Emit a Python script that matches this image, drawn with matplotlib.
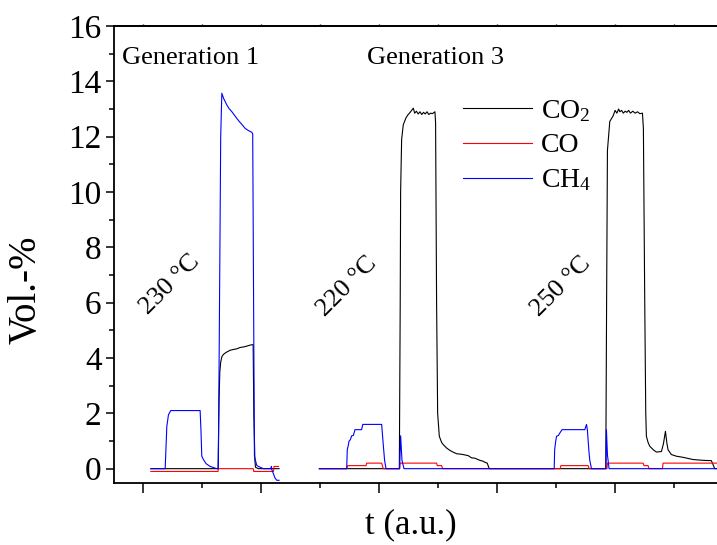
import matplotlib
matplotlib.use("Agg")
import matplotlib.pyplot as plt
from matplotlib.ticker import MultipleLocator, NullFormatter

plt.rcParams["font.family"] = ["Liberation Serif", "DejaVu Serif"]
plt.rcParams["mathtext.fontset"] = "custom"
plt.rcParams["mathtext.rm"] = "Liberation Serif"
plt.rcParams["mathtext.it"] = "Liberation Serif"

# ---- data (x in arbitrary time units, y in Vol.-%) ----
# Generation 1 run
gen1_co2_x = [0.125, 1.265, 1.282, 1.295, 1.31, 1.33, 1.356, 1.40, 1.469, 1.53, 1.58, 1.639, 1.70, 1.752, 1.80, 1.837, 1.86, 1.872, 1.89, 1.90, 1.95, 2.30]
gen1_co2_y = [0.0, 0.0, 2.5, 3.5, 3.85, 4.05, 4.13, 4.2, 4.28, 4.31, 4.33, 4.38, 4.4, 4.43, 4.46, 4.48, 4.48, 2.0, 0.3, 0.05, 0.0, 0.0]

gen1_co_x = [0.125, 1.265, 1.27, 1.862, 1.87, 2.205, 2.215, 2.29]
gen1_co_y = [-0.1, -0.1, 0.0, 0.0, -0.1, -0.1, 0.08, 0.08]

gen1_ch4_x = [0.125, 0.368, 0.396, 0.424, 0.464, 0.961, 0.975, 0.989, 1.017, 1.063, 1.131, 1.244, 1.27,
              1.31, 1.329, 1.36, 1.413, 1.45, 1.50, 1.583, 1.62, 1.67, 1.724, 1.78, 1.837, 1.853,
              1.868, 1.882, 1.921, 1.950, 2.034, 2.159, 2.17, 2.176, 2.232, 2.261, 2.30]
gen1_ch4_y = [0.0, 0.0, 1.53, 1.95, 2.1, 2.1, 1.4, 0.45, 0.33, 0.18, 0.08, 0.0, 0.0,
              12.0, 13.57, 13.38, 13.15, 13.02, 12.9, 12.66, 12.56, 12.44, 12.30, 12.22, 12.16, 12.1,
              6.0, 0.45, 0.12, 0.08, 0.0, 0.0, 0.08, -0.03, -0.34, -0.42, -0.42]

# Generation 3 run (220 °C and 250 °C)
gen3_co2_x = [2.984, 4.340, 4.355, 4.362, 4.379, 4.407, 4.453, 4.49, 4.52, 4.577, 4.60, 4.63, 4.66, 4.69,
              4.72, 4.75, 4.78, 4.81, 4.84, 4.87, 4.90, 4.944, 4.955, 4.972, 4.99, 5.018, 5.057, 5.085,
              5.14, 5.198, 5.25, 5.311, 5.40, 5.509, 5.566, 5.62, 5.707, 5.76, 5.792, 5.831, 5.865,
              7.842, 7.856, 7.87, 7.91, 7.966, 8.0, 8.03, 8.06, 8.08, 8.11, 8.14, 8.17, 8.20, 8.23,
              8.26, 8.30, 8.34, 8.38, 8.42, 8.464, 8.48, 8.503, 8.52, 8.531, 8.559, 8.588, 8.65, 8.701,
              8.786, 8.82, 8.854, 8.88, 8.899, 8.955, 9.040, 9.153, 9.322, 9.50, 9.633, 9.690, 9.8]
gen3_co2_y = [0.0, 0.0, 6.0, 10.0, 11.9, 12.43, 12.68, 12.8, 12.87, 13.03, 12.85, 12.92, 12.82, 12.9,
              12.8, 12.88, 12.82, 12.9, 12.8, 12.85, 12.83, 12.9, 12.5, 6.0, 2.0, 1.17, 0.95, 0.87,
              0.75, 0.66, 0.6, 0.54, 0.52, 0.47, 0.39, 0.38, 0.30, 0.27, 0.23, 0.2, 0.0,
              0.0, 6.0, 11.5, 12.55, 12.75, 12.95, 12.85, 13.0, 12.9, 12.95, 12.85, 12.92, 12.88, 12.95,
              12.85, 12.92, 12.85, 12.9, 12.83, 12.85, 12.3, 6.0, 2.0, 1.17, 0.95, 0.81, 0.68, 0.60,
              0.62, 0.9, 1.35, 0.9, 0.68, 0.51, 0.45, 0.41, 0.33, 0.3, 0.29, 0.0, 0.0]

gen3_co_x = [2.984, 3.447, 3.464, 3.775, 3.786, 4.040, 4.068, 4.345, 4.351, 4.972, 4.984, 5.057, 5.074,
             7.07, 7.080, 7.543, 7.56, 7.862, 7.870, 8.475, 8.490, 8.559, 8.576, 8.803, 8.814, 9.8]
gen3_co_y = [0.0, 0.0, 0.11, 0.11, 0.2, 0.2, 0.0, 0.0, 0.2, 0.2, 0.11, 0.11, 0.0,
             0.0, 0.11, 0.11, 0.0, 0.0, 0.2, 0.2, 0.11, 0.11, 0.0, 0.0, 0.2, 0.2]

gen3_ch4_x = [2.984, 3.447, 3.457, 3.475, 3.486, 3.51, 3.532, 3.56, 3.588, 3.70, 3.72, 4.040, 4.055,
              4.070, 4.090, 4.114, 4.345, 4.362, 4.385, 4.419, 6.967, 6.975, 6.990, 7.006, 7.04,
              7.051, 7.10, 7.486, 7.50, 7.515, 7.53, 7.557, 7.571, 7.599, 7.845, 7.853, 7.870, 7.898, 9.8]
gen3_ch4_y = [0.0, 0.0, 0.69, 0.85, 0.99, 1.05, 1.19, 1.2, 1.41, 1.41, 1.6, 1.6, 1.2,
              0.8, 0.3, 0.0, 0.0, 1.19, 0.3, 0.0, 0.0, 0.69, 0.95, 1.17, 1.2,
              1.25, 1.41, 1.41, 1.5, 1.6, 1.4, 0.6, 0.3, 0.0, 0.0, 1.41, 0.5, 0.0, 0.0]

gases = ["CO$_2$", "CO", "CH$_4$"]
colors = ["black", "red", "blue"]
series = [
    (gen1_co2_x, gen1_co2_y, gen3_co2_x, gen3_co2_y),
    (gen1_co_x, gen1_co_y, gen3_co_x, gen3_co_y),
    (gen1_ch4_x, gen1_ch4_y, gen3_ch4_x, gen3_ch4_y),
]

temp_labels = ["230 °C", "220 °C", "250 °C"]
temp_pos = [(0.45, 6.65), (3.46, 6.57), (7.09, 6.57)]
gen_labels = ["Generation 1", "Generation 3"]
gen_pos = [(-0.37, 14.63), (3.79, 14.63)]

W, H = 717, 545
fig = plt.figure(figsize=(W / 100, H / 100), dpi=100)
ax = fig.add_axes([114 / W, 62.5 / H, 619 / W, 456.5 / H])

handles = []
for (x1, y1, x3, y3), name, c in zip(series, gases, colors):
    ln, = ax.plot(x1, y1, color=c, lw=0.8, label=name)
    ax.plot(x3, y3, color=c, lw=0.8)
    handles.append(ln)

ax.set_xlim(-0.5, 10.0)
ax.set_ylim(-0.5, 16)
ax.xaxis.set_major_locator(MultipleLocator(2))
ax.xaxis.set_minor_locator(MultipleLocator(1))
ax.xaxis.set_major_formatter(NullFormatter())
ax.yaxis.set_major_locator(MultipleLocator(2))
ax.yaxis.set_minor_locator(MultipleLocator(1))
ax.tick_params(axis="both", which="both", direction="out", width=1.1)
ax.tick_params(axis="x", which="major", length=7)
ax.tick_params(axis="x", which="minor", length=3.6)
ax.tick_params(axis="y", which="major", length=6, labelsize=24, pad=3)
ax.tick_params(axis="y", which="minor", length=3.4)
for s in ax.spines.values():
    s.set_linewidth(1.3)

# tiny tick marks on the top frame
top = ax.secondary_xaxis("top")
top.xaxis.set_major_locator(MultipleLocator(1))
top.xaxis.set_major_formatter(NullFormatter())
top.tick_params(direction="out", length=1.8, width=1.0)
top.spines["top"].set_linewidth(1.3)

for txt, (tx, ty) in zip(gen_labels, gen_pos):
    ax.text(tx, ty, txt, fontsize=19, ha="left", va="baseline")
for txt, (tx, ty) in zip(temp_labels, temp_pos):
    ax.text(tx, ty, txt, fontsize=19, rotation=45, rotation_mode="anchor",
            ha="center", va="center")

ax.legend(handles=handles, loc="upper left", bbox_to_anchor=(5.42, 13.4),
          bbox_transform=ax.transData, frameon=False, fontsize=20,
          handlelength=2.5, handletextpad=0.3, labelspacing=0.33,
          borderpad=0, borderaxespad=0)

fig.text(26 / W, 1 - 290 / H, "Vol.-%", rotation=90, fontsize=28, ha="center", va="center")
fig.text(411 / W, 1 - 525 / H, "t (a.u.)", fontsize=25, ha="center", va="center")

fig.savefig("out.png", dpi=100)
